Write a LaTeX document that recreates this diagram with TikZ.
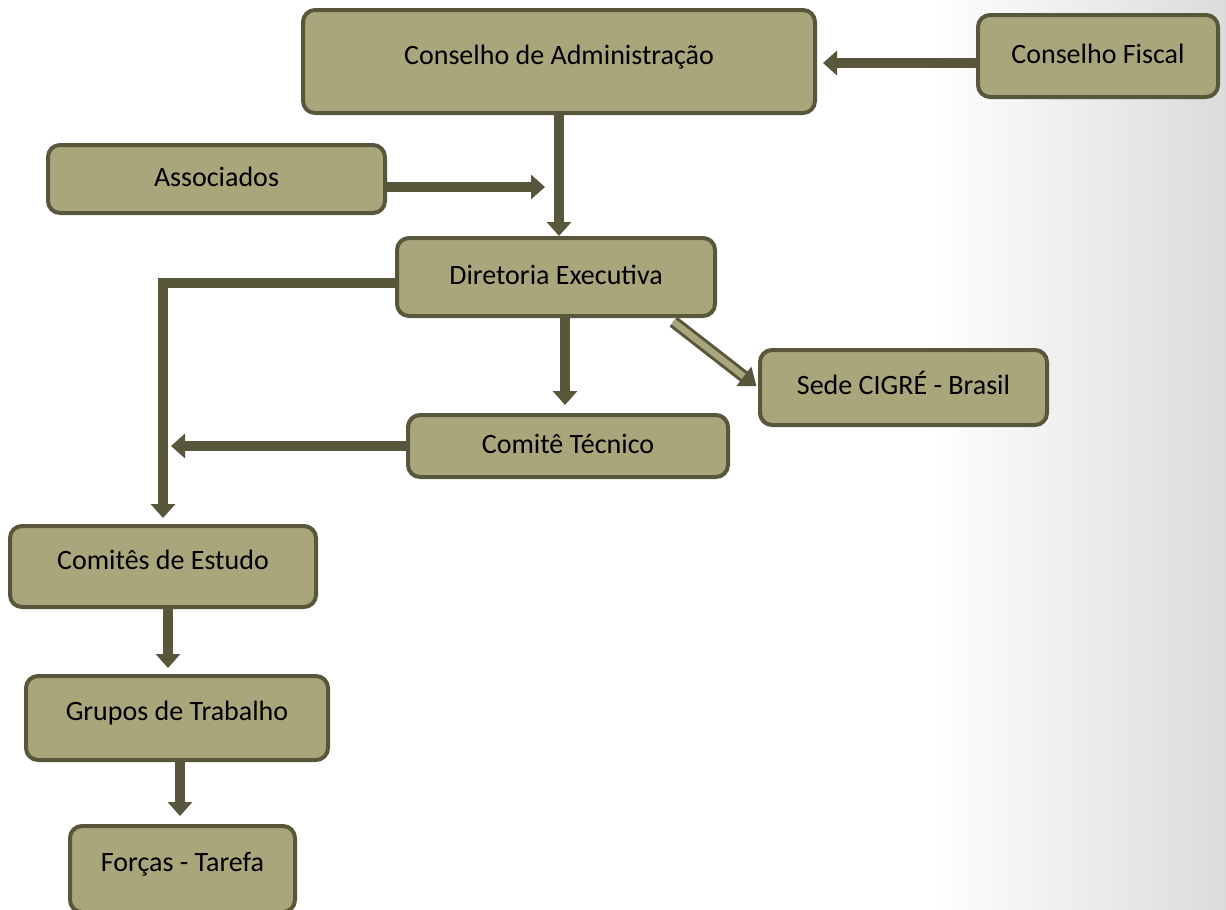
\documentclass[tikz,border=0pt]{standalone}
\usepackage{fontspec}
\setmainfont{Carlito}
\usetikzlibrary{arrows.meta}
\definecolor{boxfill}{RGB}{169,166,124}
\definecolor{boxline}{RGB}{88,87,60}

\begin{document}
\begin{tikzpicture}[x=0.5pt,y=-0.5pt,
  box/.style={draw=boxline,fill=boxfill,line width=2pt,rounded corners=6pt,
    font=\fontsize{14pt}{16pt}\selectfont,text height=9.5pt,text depth=7pt},
  flatbox/.style={box,text depth=2.5pt},
  arr/.style={draw=boxline,line width=4.8pt,-{Triangle[width=12pt,length=7pt]},shorten >=2pt},
  dblarr/.style={draw=boxline,line width=1.5pt,double=boxfill,double distance=3.2pt,
    -{Triangle[width=12pt,length=8pt]}}]
\useasboundingbox (0,0) rectangle (1226,910);
\shade[left color=white,right color=black!14] (930,0) rectangle (1226,910);
\node[box,minimum width=256pt,minimum height=51.5pt] (adm) at (559,61.5) {Conselho de Administração} ;
\node[flatbox,minimum width=120pt,minimum height=41pt] (fiscal) at (1098,56) {Conselho Fiscal} ;
\node[flatbox,minimum width=168.5pt,minimum height=34pt] (assoc) at (216.5,179) {Associados} ;
\node[flatbox,minimum width=159pt,minimum height=39pt] (dir) at (556,277) {Diretoria Executiva} ;
\node[flatbox,minimum width=143.5pt,minimum height=37.5pt] (sede) at (903.5,387.5) {Sede CIGRÉ - Brasil} ;
\node[flatbox,minimum width=160pt,minimum height=31pt] (tec) at (568,446) {Comitê Técnico} ;
\node[box,minimum width=153pt,minimum height=40.5pt] (estudo) at (163,566.5) {Comitês de Estudo} ;
\node[box,minimum width=151pt,minimum height=42pt] (grupos) at (177,718) {Grupos de Trabalho} ;
\node[box,minimum width=112.5pt,minimum height=43pt] (forcas) at (182.5,869) {Forças - Tarefa} ;
\coordinate (assocend) at (545,187) ;
\draw[arr,shorten >=3pt] ([yshift=-3.5pt]fiscal.west) to ([yshift=-3.5pt]fiscal.west -| adm.east) ;
\draw[arr,shorten >=0pt] (adm.south) to (adm.south |- dir.north) ;
\draw[arr,shorten >=0pt] ([yshift=-4pt]assoc.east) to (assocend) ;
\draw[arr,shorten >=3pt] ([yshift=-3pt]dir.west) -| (estudo.north) ;
\draw[arr,shorten >=4pt] (tec.west) to (tec.west -| estudo.north) ;
\draw[arr,shorten >=4pt] ([xshift=-1.5pt]tec.north |- dir.south) to ([xshift=-1.5pt]tec.north) ;
\draw[dblarr,shorten <=3pt,shorten >=1pt] (dir.-20) to (sede.west) ;
\draw[arr,shorten >=3pt] ([xshift=2.5pt]estudo.south) to ([xshift=2.5pt]estudo.south |- grupos.north) ;
\draw[arr,shorten >=4pt] ([xshift=1.5pt]grupos.south) to ([xshift=1.5pt]grupos.south |- forcas.north) ;
\end{tikzpicture}
\end{document}
